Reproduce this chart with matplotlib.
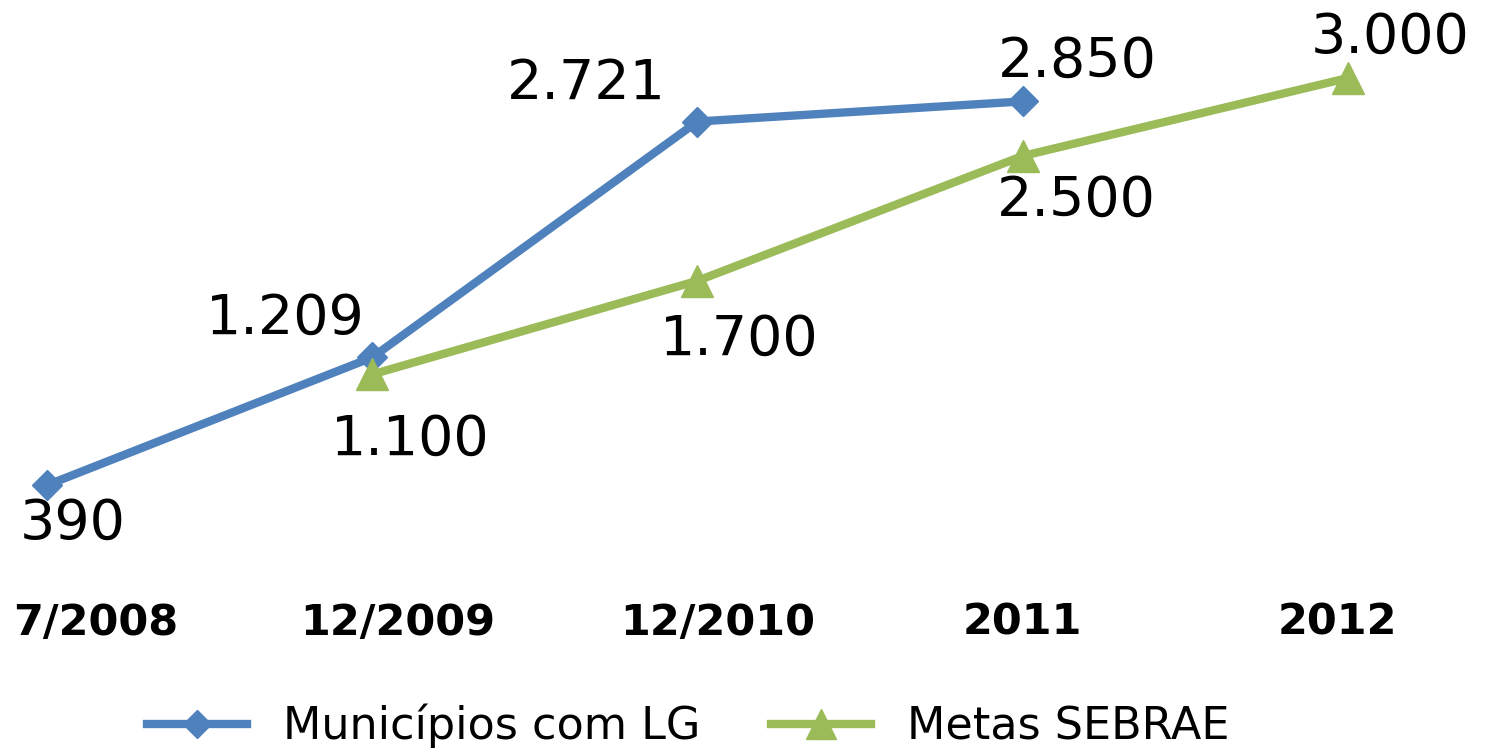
import matplotlib
matplotlib.use('Agg')
import matplotlib.pyplot as plt
import matplotlib.transforms as mtransforms

# categories and series
periodos = ['7/2008', '12/2009', '12/2010', '2011', '2012']
municipios = [390, 1209, 2721, 2850]          # Municípios com LG
metas_x = [1, 2, 3, 4]
metas = [1100, 1700, 2500, 3000]              # Metas SEBRAE

blue = '#4F81BD'
green = '#9BBB59'

fig = plt.figure(figsize=(15.04, 7.5), dpi=100)
ax = fig.add_axes([0, 1 - 546 / 750, 1, 546 / 750])

l1, = ax.plot(range(len(municipios)), municipios, color=blue, lw=6,
              marker='D', markersize=15, label='Municípios com LG', clip_on=False)
l2, = ax.plot(metas_x, metas, color=green, lw=6,
              marker='^', markersize=23, label='Metas SEBRAE', clip_on=False)

# label offsets in pixels (x, y)
off_mun = [(26, -39), (-87, 39), (-111, 38), (55, 40)]
off_met = [(38, -65), (42, -59), (54, -45), (42, 40)]

for i, v in enumerate(municipios):
    ax.annotate(f'{v:,}'.replace(',', '.'), (i, v), xytext=off_mun[i],
                textcoords='offset pixels', ha='center', va='center',
                fontsize=40, annotation_clip=False)
for x, v, o in zip(metas_x, metas, off_met):
    ax.annotate(f'{v:,}'.replace(',', '.'), (x, v), xytext=o,
                textcoords='offset pixels', ha='center', va='center',
                fontsize=40, annotation_clip=False)

ax.set_xlim(-0.1446, 4.48)
ax.set_ylim(0, 3500)
ax.set_xticks(range(len(periodos)))
ax.set_xticklabels(periodos, fontsize=31, fontweight='bold')
ax.tick_params(axis='x', length=0, pad=40)
ax.set_yticks([])
for s in ax.spines.values():
    s.set_visible(False)

# category labels sit a little right of their points, like in the original
shift_px = [49, 26, 20, 0, -11]
for lab, dx in zip(ax.get_xticklabels(), shift_px):
    lab.set_transform(lab.get_transform() +
                      mtransforms.ScaledTranslation(dx / 100, 0, fig.dpi_scale_trans))

fig.legend(handles=[l1, l2], loc='center', bbox_to_anchor=(688 / 1504, 1 - 726 / 750),
           ncol=2, frameon=False, fontsize=32, handlelength=2.25,
           handletextpad=0.8, columnspacing=1.6, markerscale=0.95)

fig.savefig('out.png', dpi=100)
